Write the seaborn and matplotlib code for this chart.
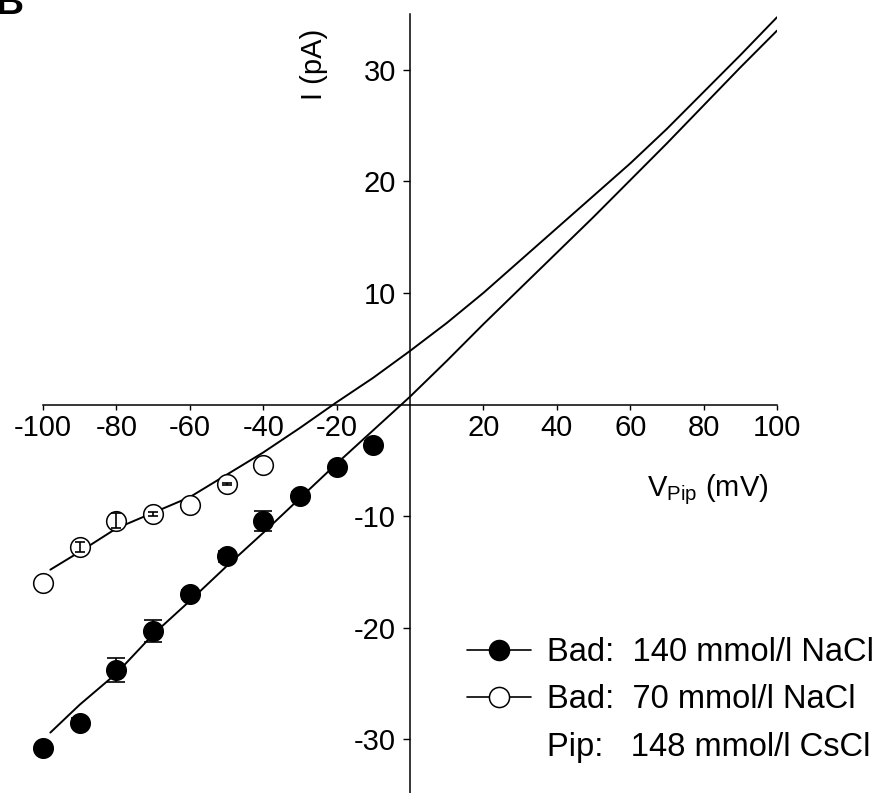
import matplotlib
matplotlib.use("Agg")
import matplotlib.pyplot as plt
from matplotlib.lines import Line2D
import seaborn as sns
import pandas as pd

sns.set_theme(style="white")
plt.rcParams['font.family'] = ['Liberation Sans', 'DejaVu Sans']
plt.rcParams['mathtext.fontset'] = 'custom'
plt.rcParams['mathtext.rm'] = 'Liberation Sans'
plt.rcParams['text.color'] = 'black'
plt.rcParams['axes.labelcolor'] = 'black'

# ---- data ----
v_points = [-100, -90, -80, -70, -60, -50, -40, -30, -20, -10]
i_140 = [-30.8, -28.5, -23.8, -20.3, -17.0, -13.6, -10.4, -8.2, -5.6, -3.6]
err_140 = [0.4, 0.4, 1.05, 1.0, 0.4, 0.5, 0.9, 0.4, 0.3, 0.3]

v_points_70 = [-100, -90, -80, -70, -60, -50, -40]
i_70 = [-16.0, -12.8, -10.4, -9.8, -9.0, -7.1, -5.4]
err_70 = [0.0, 0.45, 0.7, 0.15, 0.0, 0.1, 0.0]

trace_v_140 = [-98, -90, -80, -70, -60, -50, -40, -30, -20, -10, 0, 10, 20, 30, 40, 50, 60, 70, 80, 90, 100]
trace_i_140 = [-29.4, -26.9, -24.1, -20.6, -17.6, -14.5, -11.5, -8.4, -5.3, -2.3, 0.7, 3.9, 7.2,
               10.4, 13.6, 16.8, 20.1, 23.4, 26.8, 30.2, 33.5]
trace_v_70 = [-98, -90, -80, -70, -60, -50, -40, -30, -20, -10, 0, 10, 20, 30, 40, 50, 60, 70, 80, 90, 100]
trace_i_70 = [-14.8, -13.2, -11.1, -9.7, -8.3, -6.3, -4.3, -2.1, 0.2, 2.4, 4.8, 7.3, 10.0,
              12.9, 15.8, 18.7, 21.6, 24.7, 28.0, 31.3, 34.7]

x_ticks = [-100, -80, -60, -40, -20, 20, 40, 60, 80, 100]
x_ticklabels = ['-100', '-80', '-60', '-40', '-20', '20', '40', '60', '80', '100']
y_ticks = [-30, -20, -10, 10, 20, 30]
y_ticklabels = ['-30', '-20', '-10', '10', '20', '30']

legend_labels = ["Bad:  140 mmol/l NaCl", "Bad:  70 mmol/l NaCl", "Pip:   148 mmol/l CsCl"]

# ---- figure ----
W, H = 883, 793
fig = plt.figure(figsize=(W / 100, H / 100), dpi=100)
ax = fig.add_axes([43 / W, (H - 795.1) / H, 734 / W, 781.2 / H])
ax.set_xlim(-100, 100)
ax.set_ylim(-35, 35)

df_t140 = pd.DataFrame({'V': trace_v_140, 'I': trace_i_140})
df_t70 = pd.DataFrame({'V': trace_v_70, 'I': trace_i_70})
sns.lineplot(data=df_t140, x='V', y='I', ax=ax, color='black', lw=1.4, sort=False,
             estimator=None, zorder=2)
sns.lineplot(data=df_t70, x='V', y='I', ax=ax, color='black', lw=1.4, sort=False,
             estimator=None, zorder=2)

df140 = pd.DataFrame({'V': v_points, 'I': i_140, 'err': err_140})
df70 = pd.DataFrame({'V': v_points_70, 'I': i_70, 'err': err_70})
sns.scatterplot(data=df140, x='V', y='I', ax=ax, color='black', edgecolor='black',
                s=200, linewidth=1.0, zorder=3, clip_on=False)
sns.scatterplot(data=df70, x='V', y='I', ax=ax, color='white', edgecolor='black',
                s=200, linewidth=1.1, zorder=3, clip_on=False)
e140 = df140[df140['err'] > 0]
e70 = df70[df70['err'] > 0]
ax.errorbar(e140['V'], e140['I'], yerr=e140['err'], fmt='none', ecolor='black', elinewidth=1.2,
            capsize=6.5, capthick=1.2, zorder=4)
ax.errorbar(e70['V'], e70['I'], yerr=e70['err'], fmt='none', ecolor='black', elinewidth=1.2,
            capsize=3.5, capthick=1.2, zorder=4)

# axes through origin
for s in ['top', 'right']:
    ax.spines[s].set_visible(False)
ax.spines['left'].set_position(('data', 0))
ax.spines['bottom'].set_position(('data', 0))
for s in ['left', 'bottom']:
    ax.spines[s].set_color('black')
    ax.spines[s].set_linewidth(1.1)
ax.set_xticks(x_ticks, x_ticklabels)
ax.set_yticks(y_ticks, y_ticklabels)
ax.tick_params(axis='x', direction='out', length=3.8, width=1.0, pad=3, labelsize=21,
               colors='black', bottom=True)
ax.tick_params(axis='y', direction='out', length=5, width=1.0, pad=5, labelsize=21,
               colors='black', left=True)
ax.grid(False)
ax.patch.set_alpha(0)

ax.set_xlabel(r'V$_{\mathregular{Pip}}$ (mV)', fontsize=21, color='black')
ax.xaxis.set_label_coords(0.905, 0.413)
ax.set_ylabel('I (pA)', fontsize=21, color='black')
ax.yaxis.set_label_coords(0.388, 0.936)

handles = [
    Line2D([], [], color='black', lw=1.2, marker='o', ms=14.5, mfc='black', mec='black'),
    Line2D([], [], color='black', lw=1.2, marker='o', ms=14.5, mfc='white', mec='black', mew=1.1),
    Line2D([], [], lw=0, marker=None),
]
fig.legend(handles, legend_labels, loc='center left', bbox_to_anchor=(467 / W, 1 - 700 / H),
           frameon=False, fontsize=23.5, handlelength=1.95, handletextpad=0.5,
           labelspacing=0.5, borderpad=0, borderaxespad=0, labelcolor='black')

fig.text(23 / W, 1 - 14 / H, 'B', fontsize=28, fontweight='bold', ha='right', va='baseline',
         color='black')

fig.savefig('out.png', dpi=100)
